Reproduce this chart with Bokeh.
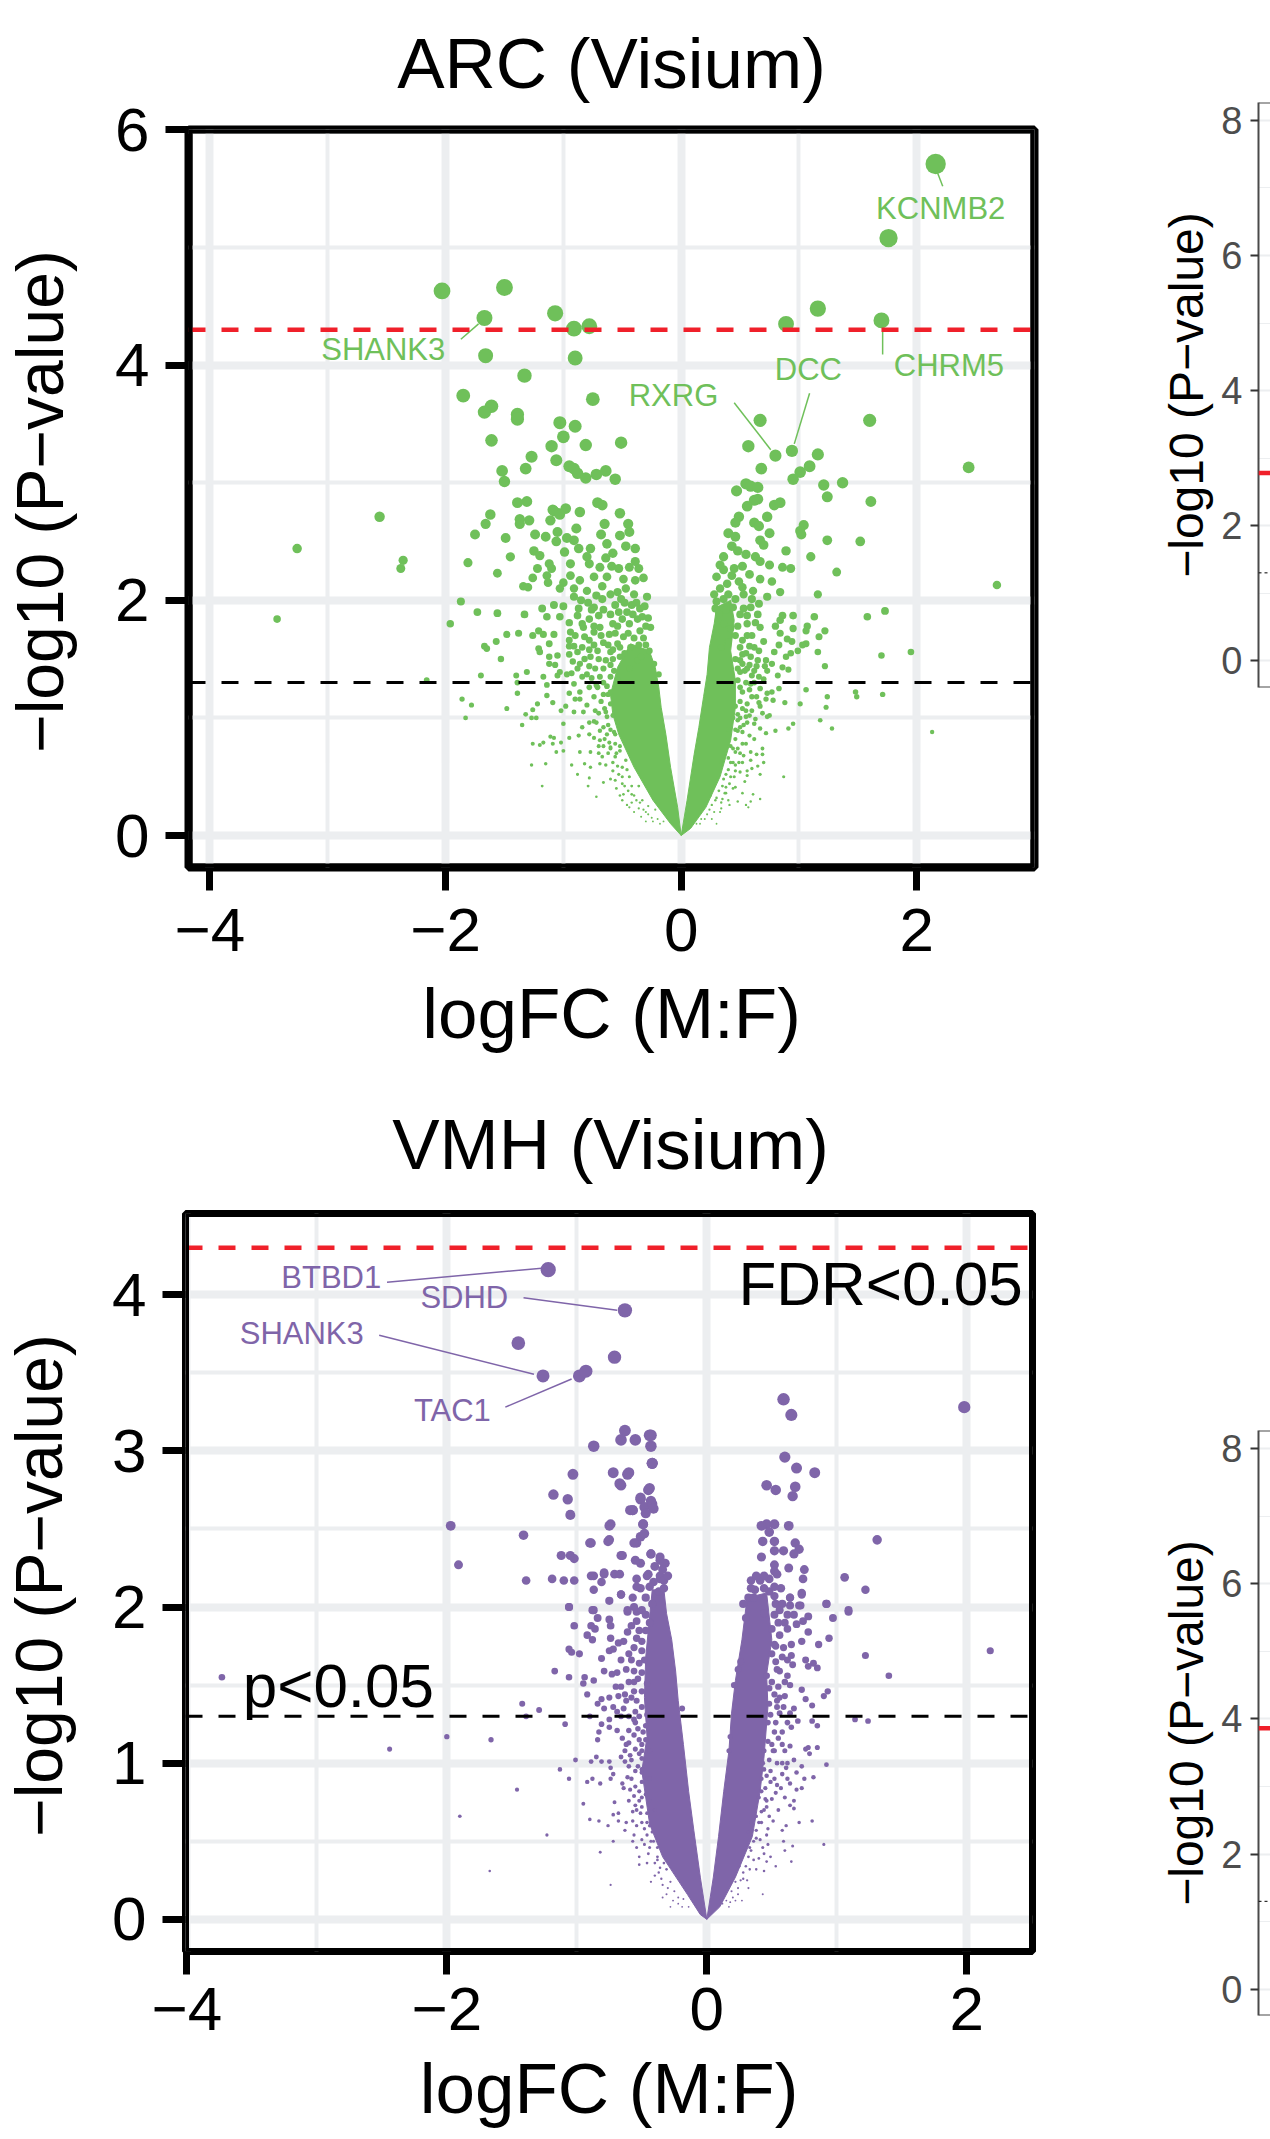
import math
from bokeh.plotting import figure
from bokeh.layouts import column, row
from bokeh.models import Range1d, FixedTicker, Span
from bokeh.core.properties import value
from bokeh.embed import file_html
from bokeh.resources import INLINE

FONT = "Liberation Sans"
GREEN = "#6FC05A"
PURPLE = "#7F65A9"
GRID = "#ECEEF0"
MINUS = "\u2212"

arc_points = [
(2.16,5.71),(1.76,5.08),(1.16,4.48),(0.89,4.35),(1.70,4.38),(1.60,3.53),(0.67,3.53),(0.57,3.31),(0.80,3.23),(0.94,3.27),
(1.16,3.24),(1.09,3.14),(1.01,3.09),(0.95,3.03),(0.68,3.12),(2.44,3.13),(1.37,3.00),(1.21,2.98),(1.24,2.88),(1.61,2.84),
(0.47,2.93),(0.55,2.99),(0.59,2.97),(0.65,2.96),(0.65,2.86),(0.62,2.85),(0.56,2.80),(0.79,2.81),(0.84,2.83),(0.49,2.71),
(0.73,2.71),(0.62,2.66),(0.46,2.66),(0.66,2.63),(1.04,2.64),(1.01,2.59),(1.02,2.56),(0.40,2.57),(0.46,2.54),(0.75,2.57),
(0.67,2.51),(0.70,2.47),(1.24,2.51),(1.52,2.50),(0.89,2.42),(1.10,2.37),(0.43,2.46),(0.48,2.42),(0.36,2.37),(0.55,2.39),
(0.63,2.37),(0.67,2.33),(0.75,2.30),(0.86,2.28),(0.93,2.27),(1.32,2.24),(0.36,2.26),(0.45,2.27),(0.52,2.29),(0.58,2.22),
(0.67,2.18),(0.77,2.16),(0.39,2.14),(0.43,2.21),(0.52,2.11),(0.61,2.08),(2.68,2.13),(1.16,2.05),(0.84,2.07),(0.73,2.03),
(0.36,2.01),(0.53,2.05),(0.60,2.01),(0.66,1.97),(0.29,1.93),(0.53,1.93),(0.59,1.94),(0.65,1.88),(0.86,1.87),(0.95,1.87),
(1.13,1.86),(1.58,1.86),(1.73,1.91),(0.84,1.83),(0.80,1.78),(0.95,1.76),(1.07,1.78),(1.06,1.74),(1.22,1.74),(0.84,1.72),
(1.17,1.69),(0.56,1.80),(0.67,1.77),(0.63,1.81),(0.48,1.78),(0.56,1.70),(0.90,1.67),(0.94,1.65),(0.70,1.65),(0.83,1.62),
(1.06,1.63),(1.03,1.62),(0.58,1.61),(0.66,1.57),(0.99,1.57),(0.93,1.55),(0.79,1.56),(1.16,1.56),(1.70,1.53),(1.95,1.56),
(0.89,1.52),(0.52,1.54),(0.59,1.52),(0.50,1.49),(0.65,1.49),(0.72,1.49),(0.77,1.46),(0.71,1.44),(1.22,1.44),(0.86,1.43),
(0.91,1.41),(0.73,1.40),(0.56,1.42),(0.62,1.40),(0.50,1.39),(0.82,1.36),(0.66,1.35),(0.48,1.32),(0.59,1.29),(0.67,1.25),
(0.83,1.25),(1.06,1.24),(0.77,1.22),(0.73,1.21),(1.48,1.22),(1.49,1.18),(1.71,1.20),(1.24,1.18),(0.72,1.16),(0.78,1.15),
(0.60,1.18),(0.66,1.13),(0.88,1.13),(1.01,1.12),(1.23,1.09),(0.67,1.10),(0.52,1.08),(0.60,1.06),(0.69,1.04),(0.73,1.01),
(0.75,1.02),(0.48,1.03),(0.55,1.01),(0.63,0.99),(1.18,0.98),(0.62,0.95),(0.95,0.95),(0.53,0.94),(0.91,0.91),(0.67,0.91),
(1.28,0.91),(0.80,0.89),(0.72,0.87),(2.13,0.88),(0.48,0.89),(0.58,0.85),(0.62,0.82),(0.52,0.78),(0.69,0.74),(0.59,0.71),
(0.64,0.69),(0.69,0.69),(0.46,0.71),(0.53,0.68),(0.59,0.64),(0.70,0.62),(0.49,0.62),(0.65,0.59),(0.60,0.57),(0.56,0.55),
(0.46,0.55),(0.67,0.52),(0.56,0.51),(0.87,0.50),(0.45,0.50),(0.54,0.46),(0.46,0.41),(0.38,0.41),(0.52,0.36),(0.61,0.35),
(0.37,0.36),(0.35,0.31),(0.48,0.29),(0.59,0.29),(0.67,0.31),(0.55,0.26),(0.57,0.24),(0.41,0.26),(0.34,0.23),(0.30,0.10),
(-2.03,4.63),(-1.50,4.66),(-1.67,4.40),(-1.07,4.44),(-0.91,4.31),(-0.78,4.33),(-1.66,4.08),(-0.90,4.06),(-1.33,3.91),(-1.85,3.74),
(-1.61,3.65),(-1.67,3.60),(-1.39,3.58),(-1.39,3.54),(-0.75,3.71),(-1.03,3.51),(-0.90,3.48),(-1.00,3.39),(-1.10,3.31),(-0.81,3.32),
(-0.51,3.34),(-1.61,3.36),(-1.27,3.22),(-1.06,3.19),(-1.32,3.12),(-1.52,3.10),(-1.50,3.01),(-0.95,3.14),(-0.91,3.12),(-0.88,3.08),
(-0.81,3.04),(-0.72,3.07),(-0.64,3.10),(-0.56,3.03),(-1.39,2.83),(-1.31,2.84),(-1.09,2.77),(-1.04,2.74),(-0.98,2.78),(-0.86,2.75),
(-0.71,2.83),(-0.67,2.81),(-0.52,2.74),(-1.62,2.73),(-2.56,2.71),(-3.26,2.44),(-2.36,2.34),(-2.38,2.27),(-3.43,1.84),(-1.66,2.65),
(-1.75,2.56),(-1.49,2.53),(-1.81,2.32),(-1.45,2.37),(-1.56,2.23),(-1.37,2.69),(-1.37,2.65),(-1.29,2.68),(-1.24,2.56),(-1.15,2.54),
(-1.25,2.42),(-1.20,2.38),(-1.22,2.27),(-1.12,2.31),(-1.10,2.27),(-1.26,2.19),(-1.34,2.12),(-1.30,2.11),(-1.14,2.21),(-1.13,2.15),
(-1.11,2.68),(-1.08,2.76),(-1.03,2.73),(-0.45,2.65),(-0.44,2.58),(-0.52,2.55),(-0.89,2.61),(-0.65,2.65),(-0.68,2.56),(-1.05,2.58),
(-1.06,2.50),(-0.97,2.53),(-0.91,2.51),(-0.99,2.41),(-0.87,2.44),(-0.77,2.44),(-0.80,2.37),(-0.63,2.48),(-0.47,2.46),(-0.39,2.44),
(-0.58,2.40),(-0.64,2.36),(-0.78,2.31),(-0.94,2.31),(-0.69,2.28),(-0.59,2.29),(-0.53,2.27),(-0.44,2.28),(-0.39,2.33),(-0.36,2.27),
(-0.32,2.19),(-0.39,2.17),(-0.49,2.18),(-0.63,2.20),(-0.74,2.20),(-0.86,2.17),(-0.94,2.21),(-1.00,2.15),(-1.03,2.10),(-0.91,2.10),
(-0.80,2.08),(-0.67,2.12),(-0.54,2.07),(-0.47,2.10),(-0.40,2.05),(-0.29,2.03),(-0.91,2.03),(-0.51,2.01),(-0.67,2.01),(-0.42,1.96),
(-0.35,1.93),(-0.74,1.94),(-0.87,1.93),(-1.08,1.96),(-1.00,1.95),(-1.18,1.93),(-1.14,1.86),(-1.03,1.86),(-1.33,1.88),(-1.56,1.89),
(-1.73,1.90),(-1.87,1.99),(-1.96,1.80),(-0.88,1.87),(-0.78,1.84),(-0.70,1.87),(-0.60,1.88),(-0.53,1.90),(-0.37,1.84),(-0.28,1.85),
(-0.95,1.81),(-0.83,1.77),(-0.69,1.77),(-0.54,1.78),(-0.44,1.80),(-0.26,1.77),(-0.35,1.74),(-0.94,1.73),(-0.74,1.73),(-0.61,1.71),
(-0.49,1.69),(-0.32,1.68),(-1.21,1.74),(-1.17,1.71),(-1.26,1.70),(-1.08,1.71),(-1.38,1.72),(-1.48,1.71),(-1.57,1.65),(-1.67,1.61),
(-1.65,1.59),(-0.95,1.66),(-1.12,1.63),(-0.78,1.66),(-0.66,1.64),(-0.54,1.63),(-1.21,1.59),(-1.20,1.56),(-0.95,1.61),(-0.91,1.61),
(-0.78,1.58),(-0.71,1.57),(-0.60,1.56),(-0.43,1.60),(-0.27,1.57),(-1.12,1.52),(-1.05,1.53),(-0.95,1.54),(-0.77,1.52),(-0.64,1.49),
(-0.52,1.52),(-0.37,1.49),(-1.53,1.50),(-1.12,1.46),(-1.07,1.45),(-0.86,1.46),(-0.88,1.42),(-0.73,1.42),(-0.57,1.40),(-0.44,1.42),
(-0.23,1.46),(-1.31,1.39),(-1.03,1.39),(-0.97,1.37),(-0.80,1.37),(-1.05,1.36),(-0.19,1.37),(-1.70,1.36),(-1.40,1.36),(-1.17,1.35),
(-0.69,1.35),(-0.54,1.33),(-2.16,1.32),(-1.39,1.30),(-1.14,1.28),(-0.91,1.29),(-0.78,1.26),(-0.71,1.26),(-0.63,1.27),(-1.39,1.21),
(-1.14,1.19),(-0.95,1.21),(-0.86,1.22),(-0.74,1.18),(-1.86,1.16),(-1.78,1.11),(-1.22,1.12),(-1.09,1.13),(-0.90,1.16),(-0.86,1.16),
(-0.80,1.11),(-1.48,1.08),(-1.26,1.07),(-1.02,1.06),(-0.98,1.10),(-0.91,1.05),(-0.83,1.05),(-0.73,1.06),(-1.32,1.03),(-1.27,1.00),
(-1.23,1.00),(-1.83,1.00),(-1.35,0.94),(-1.00,0.95),(-0.78,0.96),(-0.74,0.97),(-0.84,0.92),(-0.69,0.89),(-0.63,1.01),(-0.87,0.85),
(-0.95,0.83),(-1.11,0.84),(-1.08,0.83),(-0.78,0.86),(-0.74,0.83),(-0.63,0.86),(-1.26,0.78),(-1.20,0.77),(-1.17,0.79),(-1.09,0.78),
(-1.02,0.79),(-0.69,0.81),(-0.61,0.79),(-0.70,0.76),(-1.06,0.71),(-1.00,0.72),(-0.86,0.71),(-0.77,0.71),(-0.67,0.67),(-0.60,0.75),
(-0.56,0.67),(-1.27,0.60),(-1.15,0.61),(-0.93,0.60),(-0.82,0.61),(-0.69,0.61),(-0.77,0.58),(-0.54,0.59),(-0.88,0.52),(-0.78,0.49),
(-0.66,0.45),(-0.56,0.47),(-0.79,0.42),(-1.18,0.42),(-0.72,0.33),(-0.52,0.34),(-0.44,0.24),(-0.49,0.35),(-0.42,0.28),(-0.36,0.23),
]
# points estimated from the merged blobs of the two dense wings
arc_dense = [
(-0.85,2.00),(-0.79,1.98),(-0.72,2.04),(-0.60,2.05),(-0.56,1.96),(-0.48,1.98),(-0.38,1.98),(-0.31,1.95),(-0.84,1.80),(-0.76,1.92),
(-0.66,1.92),(-0.58,1.80),(-0.50,1.84),(-0.46,1.90),(-0.41,1.88),(-0.33,1.86),(-0.30,1.78),(-0.90,1.70),(-0.82,1.69),(-0.74,1.78),
(-0.68,1.70),(-0.56,1.72),(-0.52,1.60),(-0.45,1.72),(-0.40,1.68),(-0.36,1.62),(-0.30,1.62),(-0.88,1.56),(-0.84,1.60),(-0.74,1.62),
(-0.70,1.50),(-0.62,1.62),(-0.58,1.50),(-0.48,1.55),(-0.92,1.48),(-0.82,1.50),(-0.78,1.44),(-0.66,1.42),(-0.60,1.45),(-0.93,1.38),
(-0.84,1.35),(-0.76,1.34),(-0.66,1.30),(-0.60,1.35),(-0.62,1.20),(-0.68,1.14),(-0.65,1.08),(-0.72,1.28),(-0.60,1.12),(-0.58,1.02),
(-0.62,0.94),(-0.57,0.88),(-0.66,0.92),(-0.56,0.78),(-0.52,0.72),(-0.58,0.62),(-0.50,0.58),(-0.47,0.64),(-0.44,0.50),(-0.50,0.44),
(-0.42,0.42),(-0.40,0.34),(-0.36,0.42),(-0.33,0.30),(-0.30,0.20),(-0.28,0.25),(-0.25,0.15),(-0.22,0.22),(-0.18,0.10),(-0.15,0.12),
(-0.58,1.58),(-0.34,1.52),
(-0.60,0.90),(-0.65,0.82),(-0.60,0.74),(-0.55,0.70),(-0.62,0.70),(-0.58,0.55),(-0.53,0.52),(-0.46,0.56),(-0.50,0.50),(-0.48,0.42),
(-0.45,0.38),(-0.42,0.35),(-0.38,0.30),(-0.35,0.28),(-0.32,0.22),(-0.28,0.18),(-0.24,0.12),(-0.20,0.14),(-0.52,0.76),(-0.56,0.86),
(-0.54,0.96),(-0.64,1.05),(-0.60,1.22),(-0.66,1.20),(-0.70,1.04),(-0.72,0.96),(-0.66,0.76),(-0.70,0.70),(-0.64,0.60),(-0.60,0.48),
(-0.55,0.40),(-0.50,0.30),(-0.46,0.26),(-0.40,0.20),(-0.34,0.16),(-0.30,0.12),
(0.30,1.99),(0.33,2.10),(0.40,2.05),(0.46,2.01),(0.49,2.16),(0.32,1.88),(0.38,1.92),(0.44,1.94),(0.50,1.88),(0.56,1.87),
(0.36,1.80),(0.42,1.76),(0.46,1.70),(0.52,1.66),(0.60,1.70),(0.62,1.60),(0.30,1.70),(0.34,1.60),(0.40,1.65),(0.50,1.60),
(0.55,1.55),(0.64,1.44),(0.46,1.50),(0.52,1.46),(0.58,1.45),(0.48,1.42),(0.55,1.30),(0.62,1.30),(0.70,1.33),(0.52,1.22),
(0.58,1.24),(0.64,1.18),(0.50,1.14),(0.56,1.12),(0.48,0.98),(0.56,0.96),(0.52,0.88),(0.46,0.82),(0.55,0.78),(0.44,0.74),
(0.42,0.62),(0.50,0.70),(0.40,0.56),(0.36,0.48),(0.41,0.44),(0.32,0.38),(0.29,0.30),(0.26,0.26),(0.22,0.18),(0.17,0.14),
(0.13,0.10),(0.25,0.34),(0.34,0.62),(0.40,0.90),(0.30,2.20),(0.33,2.30),(0.28,2.05),
(0.44,1.00),(0.50,0.92),(0.46,0.90),(0.42,0.76),(0.48,0.74),(0.44,0.62),(0.40,0.66),(0.46,0.60),(0.38,0.52),(0.42,0.50),
(0.35,0.42),(0.38,0.36),(0.30,0.32),(0.34,0.28),(0.24,0.22),(0.28,0.20),(0.20,0.14),(0.16,0.10),(0.50,1.00),(0.46,1.10),
(0.50,1.26),(0.60,1.36),(0.54,1.40),(0.55,1.06),(0.58,1.02),(0.52,0.62),(0.50,0.54),(0.44,0.40),(0.40,0.30),(0.33,0.20),(0.26,0.14),
]
arc_core_left = [(0.0,0.0),(-0.03,0.24),(-0.09,0.58),(-0.13,0.86),(-0.17,1.09),(-0.19,1.26),(-0.22,1.43),(-0.27,1.57),(-0.43,1.63),
                 (-0.54,1.43),(-0.60,1.20),(-0.58,1.03),(-0.53,0.86),(-0.40,0.58),(-0.24,0.30),(-0.09,0.10)]
arc_core_right = [(0.0,0.0),(0.05,0.30),(0.11,0.69),(0.15,0.92),(0.19,1.18),(0.22,1.37),(0.24,1.60),(0.28,1.80),(0.30,1.94),(0.42,2.00),
                  (0.45,1.83),(0.42,1.57),(0.46,1.32),(0.46,1.09),(0.42,0.81),(0.33,0.50),(0.21,0.24),(0.08,0.06)]
arc_labels = ["KCNMB2","CHRM5","DCC","RXRG","SHANK3"]
arc_label_x = [1.68,1.83,0.82,-0.42,-3.03]
arc_label_y = [5.24,3.90,3.87,3.65,4.04]
arc_seg_x0 = [2.17,1.71,1.09,0.45,-1.72]
arc_seg_y0 = [5.65,4.38,3.76,3.68,4.35]
arc_seg_x1 = [2.22,1.71,0.96,0.76,-1.87]
arc_seg_y1 = [5.52,4.09,3.33,3.28,4.22]

vmh_points = [
(-1.22,4.16),(-0.63,3.90),(-1.45,3.69),(-0.71,3.60),(-1.26,3.48),(-0.98,3.48),(-0.93,3.51),(-0.63,3.13),(-0.66,3.07),(-0.87,3.03),
(-1.03,2.85),(-0.72,2.86),(-0.61,2.85),(-0.66,2.78),(-1.18,2.72),(-1.07,2.69),(-1.05,2.59),(-1.97,2.52),(-0.74,2.53),(-1.41,2.46),
(-0.89,2.41),(-0.75,2.43),(-0.66,2.33),(-1.12,2.33),(-1.05,2.33),(-1.02,2.31),(-1.91,2.27),(-1.39,2.17),(-1.19,2.18),(-1.10,2.17),
(-1.02,2.17),(-0.87,2.20),(-0.79,2.22),(-0.71,2.21),(-0.81,2.16),(-0.87,2.11),(-0.66,2.08),(-0.75,2.04),(-1.06,2.00),(-0.87,1.98),
(-0.61,1.98),(-0.59,2.62),(-0.55,3.07),(-0.44,3.10),(-0.43,3.03),(-0.60,2.86),(-0.42,2.92),(-0.67,2.79),(-0.45,2.75),(-0.51,2.69),
(-0.43,2.68),(-0.48,2.64),(-0.57,2.62),(-0.75,2.52),(-0.49,2.53),(-0.51,2.45),(-0.54,2.41),(-0.90,2.41),(-0.76,2.42),(-0.65,2.33),
(-0.43,2.34),(-0.36,2.30),(-0.32,2.28),(-0.51,2.28),(-0.45,2.21),(-0.36,2.18),(-0.54,2.18),(-0.79,2.21),(-0.89,2.20),(-0.67,2.21),
(-0.51,2.12),(-0.37,2.10),(-1.06,2.00),(-0.88,1.98),(-0.84,1.93),(-0.66,2.08),(-0.57,2.06),(-0.61,1.97),(-0.54,1.97),(-0.75,1.92),
(-0.74,1.88),(-0.54,1.91),(-1.02,1.88),(-0.89,1.88),(-0.86,1.86),(-0.92,1.82),(-0.88,1.79),(-0.74,1.80),(-0.61,1.84),(-0.47,1.85),
(-0.64,1.78),(-0.68,1.77),(-1.06,1.73),(-1.04,1.71),(-0.98,1.70),(-0.75,1.72),(-0.72,1.73),(-0.60,1.70),(-0.81,1.67),(-0.66,1.66),
(-0.56,1.74),(-0.48,1.66),(-0.79,1.59),(-0.73,1.57),(-0.69,1.58),(-0.56,1.59),(-1.17,1.59),(-1.06,1.55),(-0.94,1.55),(-0.87,1.53),
(-0.95,1.51),(-0.70,1.49),(-0.66,1.49),(-0.56,1.52),(-0.46,1.51),(-0.92,1.44),(-0.81,1.41),(-0.75,1.42),(-0.68,1.43),(-0.63,1.44),
(-0.54,1.40),(-0.84,1.38),(-0.72,1.36),(-0.79,1.35),(-0.69,1.33),(-0.64,1.35),(-0.55,1.33),(-1.42,1.38),(-1.29,1.34),(-1.39,1.30),
(-0.90,1.30),(-0.46,1.31),(-0.19,1.35),(-0.55,1.26),(-0.75,1.28),(-0.81,1.25),(-1.09,1.25),(-0.75,1.23),(-0.47,1.24),(-0.69,1.21),
(-0.60,1.21),(-0.83,1.20),(-0.84,1.15),(-0.65,1.16),(-0.52,1.15),(-0.60,1.13),(-0.47,1.15),(-0.55,1.09),(-0.50,1.08),(-0.63,1.08),
(-0.66,1.04),(-0.59,1.05),(-0.50,1.03),(-2.00,1.17),(-1.66,1.15),(-2.44,1.09),(-1.01,1.02),(-0.85,1.04),(-0.89,1.01),(-0.81,1.01),
(-0.75,1.01),(-0.63,1.01),(-0.74,0.97),(-1.13,0.96),(-0.55,0.95),(-0.72,0.93),(-0.61,0.91),(-0.50,0.94),(-0.74,0.90),(-0.88,0.90),
(-1.06,0.90),(-0.92,0.88),(-0.82,0.87),(-0.65,0.87),(-0.64,0.84),(-0.59,0.83),(-0.52,0.82),(-1.46,0.83),(-0.56,0.79),(-0.71,0.75),
(-0.52,0.76),(-0.95,0.74),(-0.55,0.73),(-0.68,0.68),(-0.72,0.67),(-0.57,0.69),(-0.51,0.68),(-1.90,0.66),(-0.90,0.64),(-0.83,0.63),
(-0.68,0.63),(-0.62,0.62),(-0.50,0.62),(-0.76,0.60),(-0.57,0.63),(-0.63,0.57),(-0.48,0.58),(-0.56,0.54),(-1.23,0.54),(-0.50,0.51),
(-0.72,0.50),(-0.57,0.50),(-0.43,0.50),(-0.54,0.46),(-0.82,0.43),(-0.52,0.40),(-0.45,0.42),(-0.38,0.40),(-0.52,0.35),(-1.67,0.31),
(-0.37,0.30),(-0.31,0.32),(-0.74,0.22),(-0.43,0.24),(-0.31,0.16),(-0.19,0.08),(-3.73,1.55),
(-0.43,3.10),(-0.42,2.92),(-0.44,2.76),(-0.51,2.70),(-0.42,2.66),(-0.41,2.63),(-0.47,2.60),(-0.57,2.62),(-0.49,2.53),(-0.48,2.47),
(-0.56,2.41),(-0.43,2.34),(-0.36,2.32),(-0.33,2.28),(-0.55,2.30),(-0.46,2.20),(-0.36,2.20),(-0.33,2.17),(-0.41,2.16),(-0.33,2.12),(-0.54,2.13),
(0.59,3.33),(0.65,3.23),(1.98,3.28),(0.60,2.96),(0.69,2.89),(0.83,2.86),(0.46,2.78),(0.53,2.75),(0.68,2.77),(0.66,2.71),
(0.46,2.53),(0.42,2.52),(0.52,2.53),(0.63,2.52),(0.48,2.48),(1.31,2.43),(0.43,2.42),(0.52,2.42),(0.68,2.41),(0.52,2.36),
(0.59,2.36),(0.71,2.37),(0.67,2.34),(0.42,2.32),(0.52,2.27),(0.52,2.23),(0.63,2.25),(0.75,2.24),(0.54,2.21),(0.74,2.18),
(1.06,2.19),(0.34,2.17),(0.41,2.17),(0.48,2.18),(1.22,2.11),(0.37,2.11),(0.57,2.12),(0.73,2.09),(0.64,2.06),(0.71,2.01),
(0.92,2.02),(0.32,2.06),(0.52,2.07),(1.09,1.98),(0.73,2.08),(0.64,2.06),(0.92,2.02),(0.72,2.01),(0.53,2.02),(0.58,2.02),
(0.64,2.01),(1.09,1.97),(0.97,1.93),(0.62,1.95),(0.67,1.95),(0.30,1.93),(0.78,1.94),(0.74,1.91),(0.69,1.89),(0.62,1.86),
(0.78,1.84),(0.94,1.80),(0.73,1.78),(0.86,1.76),(0.65,1.76),(0.59,1.74),(0.53,1.75),(0.65,1.69),(1.22,1.69),(2.18,1.72),
(0.76,1.66),(0.82,1.64),(0.78,1.62),(0.85,1.61),(0.66,1.63),(0.62,1.66),(0.56,1.59),(0.62,1.56),(1.40,1.56),(0.53,1.65),
(0.26,1.65),(0.24,1.60),(0.64,1.50),(0.55,1.49),(0.73,1.47),(0.93,1.46),(0.90,1.43),(0.76,1.41),(0.60,1.43),(0.54,1.40),
(0.21,1.50),(0.22,1.36),(0.81,1.37),(0.54,1.36),(0.59,1.36),(0.67,1.35),(0.64,1.32),(0.49,1.31),(0.70,1.27),(0.81,1.27),
(1.14,1.28),(1.24,1.27),(0.62,1.26),(0.53,1.26),(0.65,1.23),(0.85,1.24),(0.55,1.16),(0.58,1.12),(0.64,1.11),(0.85,1.10),
(0.78,1.10),(0.76,1.09),(0.79,1.06),(0.51,1.08),(0.17,1.08),(0.18,1.17),(0.67,1.02),(0.62,1.00),(0.73,0.98),(0.92,0.99),
(0.54,1.00),(0.49,0.95),(0.69,0.94),(0.61,0.97),(0.58,0.93),(0.82,0.91),(0.75,0.90),(0.62,0.90),(0.49,0.88),(0.64,0.87),
(0.73,0.84),(0.69,0.83),(0.57,0.84),(0.53,0.81),(0.50,0.77),(0.60,0.78),(0.67,0.76),(0.45,0.77),(0.64,0.73),(0.55,0.70),
(0.67,0.71),(0.46,0.72),(0.42,0.69),(0.51,0.63),(0.71,0.62),(0.81,0.63),(0.61,0.60),(0.47,0.58),(0.58,0.57),(0.38,0.57),
(0.41,0.51),(0.59,0.50),(0.90,0.48),(0.66,0.47),(0.47,0.48),(0.60,0.44),(0.33,0.46),(0.44,0.42),(0.49,0.40),(0.40,0.39),
(0.46,0.37),(0.53,0.34),(0.65,0.37),(0.33,0.32),(0.44,0.31),(0.26,0.25),(0.31,0.25),(0.43,0.16),(0.22,0.12),(0.18,0.11),
]
vmh_dense = [
(-0.30,2.20),(-0.34,2.24),(-0.40,2.26),(-0.44,2.13),(-0.47,2.06),(-0.42,2.02),(-0.50,1.98),(-0.56,2.00),(-0.47,1.95),(-0.44,1.90),
(-0.52,1.85),(-0.58,1.88),(-0.50,1.78),(-0.54,1.80),(-0.50,1.72),(-0.52,1.64),(-0.58,1.66),(-0.50,1.58),(-0.53,1.54),(-0.62,1.60),
(-0.60,1.52),(-0.50,1.46),(-0.52,1.30),(-0.58,1.42),(-0.60,1.30),(-0.50,1.36),(-0.49,1.20),(-0.53,1.22),(-0.56,1.18),(-0.50,1.12),
(-0.58,1.02),(-0.53,0.98),(-0.60,0.98),(-0.50,0.88),(-0.55,0.85),(-0.47,0.80),(-0.50,0.72),(-0.46,0.68),(-0.44,0.60),(-0.46,0.54),
(-0.41,0.50),(-0.38,0.46),(-0.40,0.36),(-0.33,0.36),(-0.35,0.26),(-0.28,0.24),(-0.25,0.18),(-0.22,0.14),(-0.18,0.13),(-0.14,0.08),
(-0.44,1.08),(-0.40,0.70),
(-0.46,0.90),(-0.50,0.96),(-0.52,1.06),(-0.46,1.02),(-0.44,0.90),(-0.50,0.78),(-0.44,0.76),(-0.46,0.62),(-0.42,0.56),(-0.44,0.46),
(-0.38,0.38),(-0.36,0.33),(-0.34,0.22),(-0.30,0.20),(-0.26,0.12),(-0.22,0.10),(-0.54,0.70),(-0.54,0.60),(-0.48,0.48),(-0.46,0.36),
(-0.40,0.28),(-0.34,0.14),(-0.28,0.08),(-0.60,0.76),(-0.58,0.90),(-0.62,1.12),(-0.56,1.28),(-0.62,1.40),(-0.56,1.46),(-0.66,1.30),
(0.34,2.12),(0.38,2.20),(0.44,2.12),(0.48,2.10),(0.52,2.13),(0.28,2.02),(0.36,2.06),(0.44,2.20),(0.52,1.95),(0.55,1.90),
(0.50,1.86),(0.56,1.82),(0.60,1.90),(0.58,1.68),(0.50,1.70),(0.54,1.60),(0.50,1.52),(0.60,1.52),(0.52,1.44),(0.48,1.48),
(0.56,1.32),(0.48,1.38),(0.52,1.20),(0.47,1.26),(0.58,1.20),(0.47,1.14),(0.44,1.08),(0.48,1.02),(0.52,0.90),(0.44,0.96),
(0.42,0.90),(0.45,0.84),(0.40,0.78),(0.44,0.70),(0.36,0.70),(0.40,0.62),(0.34,0.62),(0.32,0.56),(0.36,0.50),(0.28,0.44),
(0.32,0.40),(0.25,0.34),(0.28,0.30),(0.22,0.24),(0.19,0.18),(0.24,0.20),(0.15,0.12),(0.12,0.10),
(0.43,1.00),(0.46,0.92),(0.50,1.12),(0.42,0.82),(0.46,0.76),(0.38,0.66),(0.42,0.62),(0.38,0.52),(0.34,0.44),(0.36,0.38),
(0.30,0.34),(0.28,0.26),(0.24,0.16),(0.20,0.14),(0.17,0.08),(0.52,1.08),(0.58,1.00),(0.54,0.86),(0.48,0.66),(0.46,0.54),
(0.43,0.46),(0.38,0.32),(0.32,0.20),(0.27,0.12),(0.60,1.08),(0.56,1.42),(0.46,1.56),(0.52,1.76),(0.44,1.96),(0.56,1.98),
]
vmh_core_left = [(0.0,0.0),(-0.05,0.27),(-0.10,0.57),(-0.14,0.82),(-0.18,1.12),(-0.22,1.40),(-0.24,1.59),(-0.27,1.79),(-0.31,1.96),(-0.33,2.11),
                 (-0.42,2.11),(-0.47,1.68),(-0.48,1.42),(-0.46,1.17),(-0.50,0.95),(-0.44,0.61),(-0.34,0.40),(-0.15,0.16),(-0.05,0.03)]
vmh_core_right = [(0.0,0.0),(0.05,0.27),(0.09,0.53),(0.13,0.82),(0.17,1.08),(0.19,1.32),(0.22,1.53),(0.27,1.79),(0.31,2.06),(0.46,2.09),
                  (0.50,1.79),(0.46,1.57),(0.47,1.36),(0.44,1.04),(0.41,0.82),(0.35,0.53),(0.22,0.27),(0.10,0.08)]
vmh_labels = ["BTBD1","SDHD","SHANK3","TAC1"]
vmh_label_x = [-3.25,-2.18,-3.57,-2.23]
vmh_label_y = [4.04,3.91,3.68,3.19]
vmh_seg_x0 = [-2.46,-1.41,-2.52,-1.55]
vmh_seg_y0 = [4.08,3.98,3.74,3.28]
vmh_seg_x1 = [-1.27,-0.69,-1.33,-1.04]
vmh_seg_y1 = [4.17,3.90,3.49,3.46]

x_ticks = [-4,-2,0,2]
arc_y_ticks = [0,2,4,6]
vmh_y_ticks = [0,1,2,3,4]
side_y_ticks = [0,2,4,6,8]
fdr_arc, p_line = 4.30, 1.30
fdr_vmh = 4.30
fdr_top, fdr_bottom = 2.78, 3.86


def ylab():
    return f"{MINUS}log10 (P{MINUS}value)"


def text_strip(width, height, text, px, py, size, angle=0.0):
    """A bare figure whose frame fills it, holding one piece of text at a pixel position."""
    p = figure(width=width, height=height, output_backend="svg", toolbar_location=None,
               x_range=Range1d(0, width), y_range=Range1d(height, 0),
               x_axis_type=None, y_axis_type=None,
               min_border_left=0, min_border_right=0, min_border_top=0, min_border_bottom=0,
               background_fill_color="white", border_fill_color="white")
    p.frame_align = False
    p.outline_line_color = None
    p.grid.visible = False
    p.text([px], [py], text=[text], angle=angle, text_color="black", text_font=value(FONT),
           text_font_size=value(size), text_align="center", text_baseline="middle")
    return p


def volcano(width, height, left, right, top, bottom, xr, yr, yticks, yminor, outline,
            color, pts, core_l, core_r, labels, lx, ly, sx0, sy0, sx1, sy1, red,
            x_label_standoff, x_axis_standoff):
    p = figure(width=width, height=height, output_backend="svg", toolbar_location=None,
               x_range=Range1d(*xr), y_range=Range1d(*yr),
               min_border_left=left, min_border_right=right, min_border_top=top, min_border_bottom=bottom,
               background_fill_color="white", border_fill_color="white")
    p.frame_align = False
    p.outline_line_color = "black"
    p.outline_line_width = outline
    p.outline_line_alpha = 1

    ax, ay = p.xaxis[0], p.yaxis[0]
    ax.ticker = FixedTicker(ticks=x_ticks)
    ay.ticker = FixedTicker(ticks=yticks)
    ax.major_label_overrides = {t: str(t).replace("-", MINUS) for t in x_ticks}
    ax.axis_label = "logFC (M:F)"
    ax.axis_label_text_font = FONT
    ax.axis_label_text_font_size = "71px"
    ax.axis_label_text_font_style = "normal"
    ax.axis_label_text_color = "black"
    for a in (ax, ay):
        a.major_label_text_font = FONT
        a.major_label_text_font_size = "62px"
        a.major_label_text_color = "black"
        a.major_tick_line_color = "black"
        a.major_tick_line_width = 7
        a.major_tick_out = 23
        a.major_tick_in = 0
        a.minor_tick_line_color = None
        a.axis_line_color = None
    ax.major_label_standoff = x_label_standoff
    ax.axis_label_standoff = x_axis_standoff
    ay.major_label_standoff = 16
    ay.major_label_orientation = "horizontal"

    p.xgrid.ticker = FixedTicker(ticks=x_ticks, minor_ticks=[-3,-1,1,3])
    p.ygrid.ticker = FixedTicker(ticks=yticks, minor_ticks=yminor)
    for g in (p.xgrid[0], p.ygrid[0]):
        g.grid_line_color = GRID
        g.grid_line_width = 8
        g.minor_grid_line_color = GRID
        g.minor_grid_line_width = 4

    xs = [a for a, _ in pts]
    ys = [b for _, b in pts]
    sizes = [1.5 + 3.3 * b for b in ys]
    for core in (core_l, core_r):
        p.patch([a for a, _ in core], [b for _, b in core], fill_color=color, line_color=color, line_width=1)
    p.scatter(xs, ys, size=sizes, marker="circle", fill_color=color, line_color=None)
    p.segment(sx0, sy0, sx1, sy1, line_color=color, line_width=1.5)
    p.text(lx, ly, text=labels, text_color=color, text_font=value(FONT), text_font_size=value("31px"),
           text_align="left", text_baseline="alphabetic", x_offset=-3, y_offset=-11)
    p.add_layout(Span(location=red, dimension="width", line_color="#F0202A", line_width=4.5, line_dash="17 16"))
    p.add_layout(Span(location=p_line, dimension="width", line_color="black", line_width=3, line_dash="17 16"))
    for loc, dim in ((xr[0], "height"), (xr[1], "height"), (yr[0], "width"), (yr[1], "width")):
        p.add_layout(Span(location=loc, dimension=dim, line_color="black", line_width=outline, level="overlay"))
    return p


def side(top, bottom, height, yr, red):
    p = figure(width=230, height=height, output_backend="svg", toolbar_location=None,
               x_range=Range1d(0, 1), y_range=Range1d(*yr),
               min_border_left=218, min_border_right=0, min_border_top=top, min_border_bottom=bottom,
               background_fill_color="white", border_fill_color="white")
    p.frame_align = False
    p.outline_line_color = None
    p.xaxis.visible = False
    p.xgrid.visible = False
    ay = p.yaxis[0]
    ay.ticker = FixedTicker(ticks=side_y_ticks)
    ay.axis_label = ylab()
    ay.axis_label_text_font = FONT
    ay.axis_label_text_font_size = "48px"
    ay.axis_label_text_font_style = "normal"
    ay.axis_label_text_color = "black"
    ay.major_label_text_font = FONT
    ay.major_label_text_font_size = "38px"
    ay.major_label_text_color = "#4D4D4D"
    ay.major_label_orientation = "horizontal"
    ay.major_tick_line_color = "#333333"
    ay.major_tick_line_width = 2
    ay.major_tick_out = 8
    ay.major_tick_in = 0
    ay.minor_tick_line_color = None
    ay.axis_line_color = "#4A4A4A"
    ay.axis_line_width = 2
    ay.major_label_standoff = 8
    ay.axis_label_standoff = 5
    p.ygrid.ticker = FixedTicker(ticks=side_y_ticks, minor_ticks=[1,3,5,7])
    p.ygrid[0].grid_line_color = GRID
    p.ygrid[0].grid_line_width = 2
    p.ygrid[0].minor_grid_line_color = GRID
    p.ygrid[0].minor_grid_line_width = 1
    p.add_layout(Span(location=red, dimension="width", line_color="#F0202A", line_width=4.5))
    p.add_layout(Span(location=p_line, dimension="width", line_color="black", line_width=1, line_dash="3 3"))
    p.add_layout(Span(location=yr[1], dimension="width", line_color="#4A4A4A", line_width=2))
    p.add_layout(Span(location=yr[0], dimension="width", line_color="#4A4A4A", line_width=2))
    return p


arc = volcano(962, 976, 110, 6, 25, 213, (-4.182, 2.999), (-0.272, 6.003),
              arc_y_ticks, [1,3,5], 8, GREEN, arc_points + arc_dense, arc_core_left, arc_core_right,
              arc_labels, arc_label_x, arc_label_y, arc_seg_x0, arc_seg_y0, arc_seg_x1, arc_seg_y1, fdr_arc,
              18, 20)
vmh = volcano(962, 955, 107, 8, 29, 188, (-4.01, 2.505), (-0.206, 4.52),
              vmh_y_ticks, [0.5,1.5,2.5,3.5], 7, PURPLE, vmh_points + vmh_dense, vmh_core_left, vmh_core_right,
              vmh_labels, vmh_label_x, vmh_label_y, vmh_seg_x0, vmh_seg_y0, vmh_seg_x1, vmh_seg_y1, fdr_vmh,
              13, 16)
vmh.text([2.43], [3.94], text=["FDR<0.05"], text_color="black", text_font=value(FONT), text_font_size=value("62px"),
         text_align="right", text_baseline="alphabetic", y_offset=-21)
vmh.text([-3.57], [1.36], text=["p<0.05"], text_color="black", text_font=value(FONT), text_font_size=value("62px"),
         text_align="left", text_baseline="alphabetic", y_offset=-21)

arc_title = text_strip(1040, 104, "ARC (Visium)", 611, 63, "71px")
vmh_title = text_strip(1040, 104, "VMH (Visium)", 610, 64, "71px")
arc_ylab = text_strip(78, 976, ylab(), 39, 397, "66px", math.pi / 2)
vmh_ylab = text_strip(78, 955, ylab(), 38, 401, "66px", math.pi / 2)

top_side = side(102, 393, 1080, (-0.398, 8.266), fdr_top)
bottom_side = side(350, 124, 1059, (-0.389, 8.265), fdr_bottom)

page = column(
    row(column(arc_title, row(arc_ylab, arc)), top_side),
    row(column(vmh_title, row(vmh_ylab, vmh)), bottom_side),
)
open("out.html", "w").write(file_html(page, INLINE))
